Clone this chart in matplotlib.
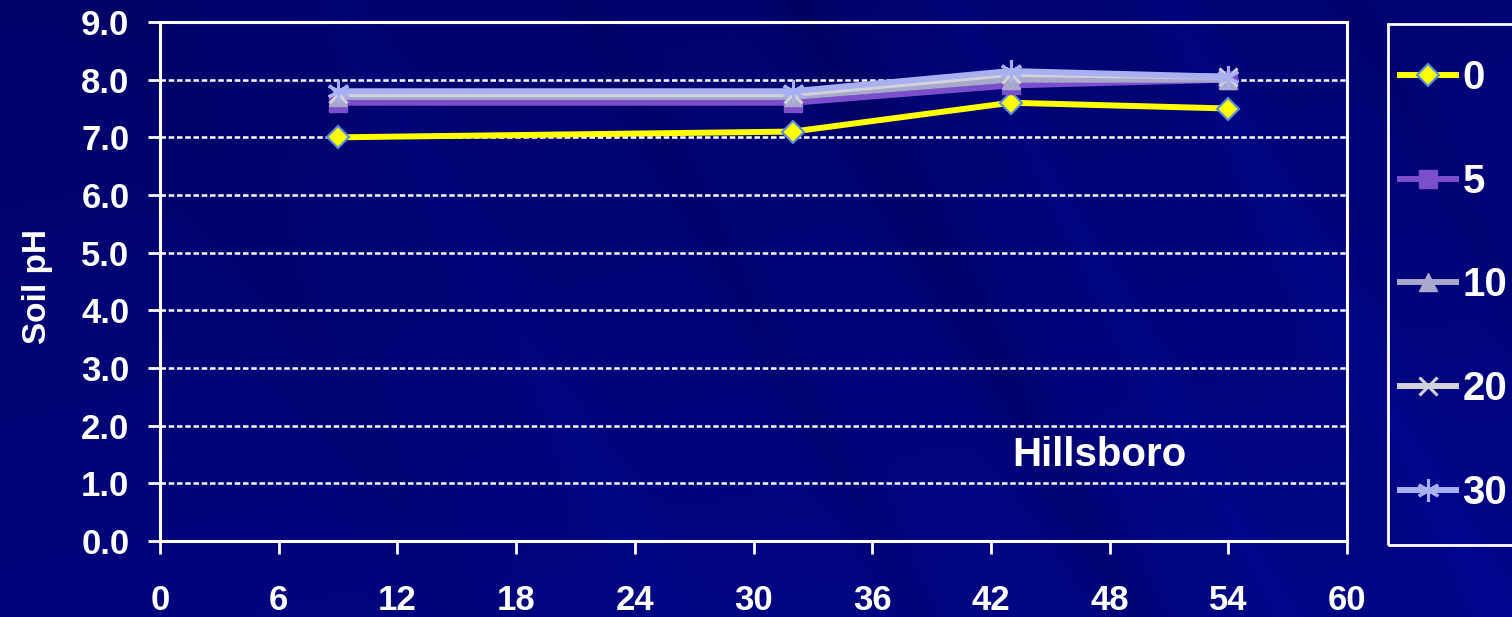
import numpy as np
import matplotlib
matplotlib.use("Agg")
import matplotlib.pyplot as plt
from matplotlib.patches import Rectangle

# Soil pH over time (months) for each application rate
months = [9, 32, 43, 54]
rate_labels = ["0", "5", "10", "20", "30"]
ph_0 = [7.0, 7.1, 7.6, 7.5]
ph_5 = [7.6, 7.6, 7.9, 8.0]
ph_10 = [7.7, 7.7, 8.0, 8.0]
ph_20 = [7.75, 7.75, 8.1, 8.05]
ph_30 = [7.8, 7.8, 8.15, 8.05]

x_ticks = [0, 6, 12, 18, 24, 30, 36, 42, 48, 54, 60]
y_ticks = [0, 1, 2, 3, 4, 5, 6, 7, 8, 9]
site_name = "Hillsboro"

plt.rcParams["font.family"] = ["Liberation Sans", "DejaVu Sans"]
plt.rcParams["font.weight"] = "bold"

fig = plt.figure(figsize=(15.12, 6.17), dpi=100)

# dark blue slide background with soft diagonal streaks
bg = fig.add_axes([0, 0, 1, 1], zorder=-10)
bg.set_axis_off()
h, w = 300, 740
yy, xx = np.mgrid[0:h, 0:w] / h
t = xx - yy * 0.55
shade = 0.40 + 0.20 * yy + 0.12 * xx / 2.5
for c, a, s in [(0.55, 0.07, 0.05), (0.95, -0.10, 0.04), (1.3, -0.16, 0.06),
                (1.55, 0.10, 0.03), (1.9, 0.12, 0.05), (2.2, -0.08, 0.04),
                (0.2, -0.06, 0.08)]:
    shade += a * np.exp(-((t - c) / s) ** 2)
shade = np.clip(shade, 0, 1)
img = np.zeros((h, w, 3))
img[..., 1] = 0.03 * shade
img[..., 2] = 0.28 + 0.34 * shade
bg.imshow(img, aspect="auto", extent=[0, 1, 0, 1], origin="upper")

ax = fig.add_axes([160 / 1512, 1 - 541 / 617, (1347 - 160) / 1512, (541 - 22) / 617])
ax.set_facecolor("none")

series = [
    (ph_0, "#FFFF00", "D", 11, "#FFFF00", "#5A8FD8", 1.5),
    (ph_5, "#7B4FCB", "s", 13, "#7B4FCB", "#7B4FCB", 1),
    (ph_10, "#A8A8CC", "^", 13, "#A8A8CC", "#A8A8CC", 1),
    (ph_20, "#D2D2D8", "x", 13, "#D2D2D8", "#D2D2D8", 2.2),
    (ph_30, "#A8B0F2", (6, 2, 0), 16, "#A8B0F2", "#A8B0F2", 2.2),
]
for (vals, col, mk, ms, fc, ec, mew), lab in zip(series, rate_labels):
    ax.plot(months, vals, color=col, linewidth=4.3, marker=mk, markersize=ms,
            markerfacecolor=fc, markeredgecolor=ec, markeredgewidth=mew,
            label=lab, zorder=3)

ax.set_xlim(0, 60)
ax.set_ylim(0, 9)
ax.set_xticks(x_ticks)
ax.set_yticks(y_ticks)
ax.set_yticklabels([f"{v:.1f}" for v in y_ticks])

for gy in y_ticks[1:-1]:
    ax.axhline(gy, color="white", linewidth=1.8, dashes=(2.2, 1.1), zorder=1)

for sp in ax.spines.values():
    sp.set_color("white")
    sp.set_linewidth(2.2)
ax.tick_params(axis="both", colors="white", direction="out", length=9, width=2,
               labelsize=25)
ax.tick_params(axis="y", pad=13)
ax.tick_params(axis="x", pad=22)
for lbl in ax.get_xticklabels() + ax.get_yticklabels():
    lbl.set_fontweight("bold")

ax.set_ylabel("Soil pH", color="white", fontsize=24, fontweight="bold")
ax.yaxis.set_label_coords(-107 / 1187, 0.49)

ax.text(47.5, 1.5, site_name, color="white", fontsize=29, fontweight="bold",
        ha="center", va="center")

# legend box runs past the right edge of the figure
fig.patches.append(Rectangle((1388 / 1512, 1 - 545 / 617), 140 / 1512, 521 / 617,
                             transform=fig.transFigure, fill=False,
                             edgecolor="white", linewidth=2))
leg = fig.legend(loc="upper left", bbox_to_anchor=(1400 / 1512, 1 - 59 / 617),
                 borderaxespad=0, borderpad=0, frameon=False, handlelength=1.4,
                 handletextpad=0.15, labelspacing=1.63,
                 prop={"weight": "bold", "size": 29})
for txt in leg.get_texts():
    txt.set_color("white")

fig.savefig("out.png", dpi=100)
